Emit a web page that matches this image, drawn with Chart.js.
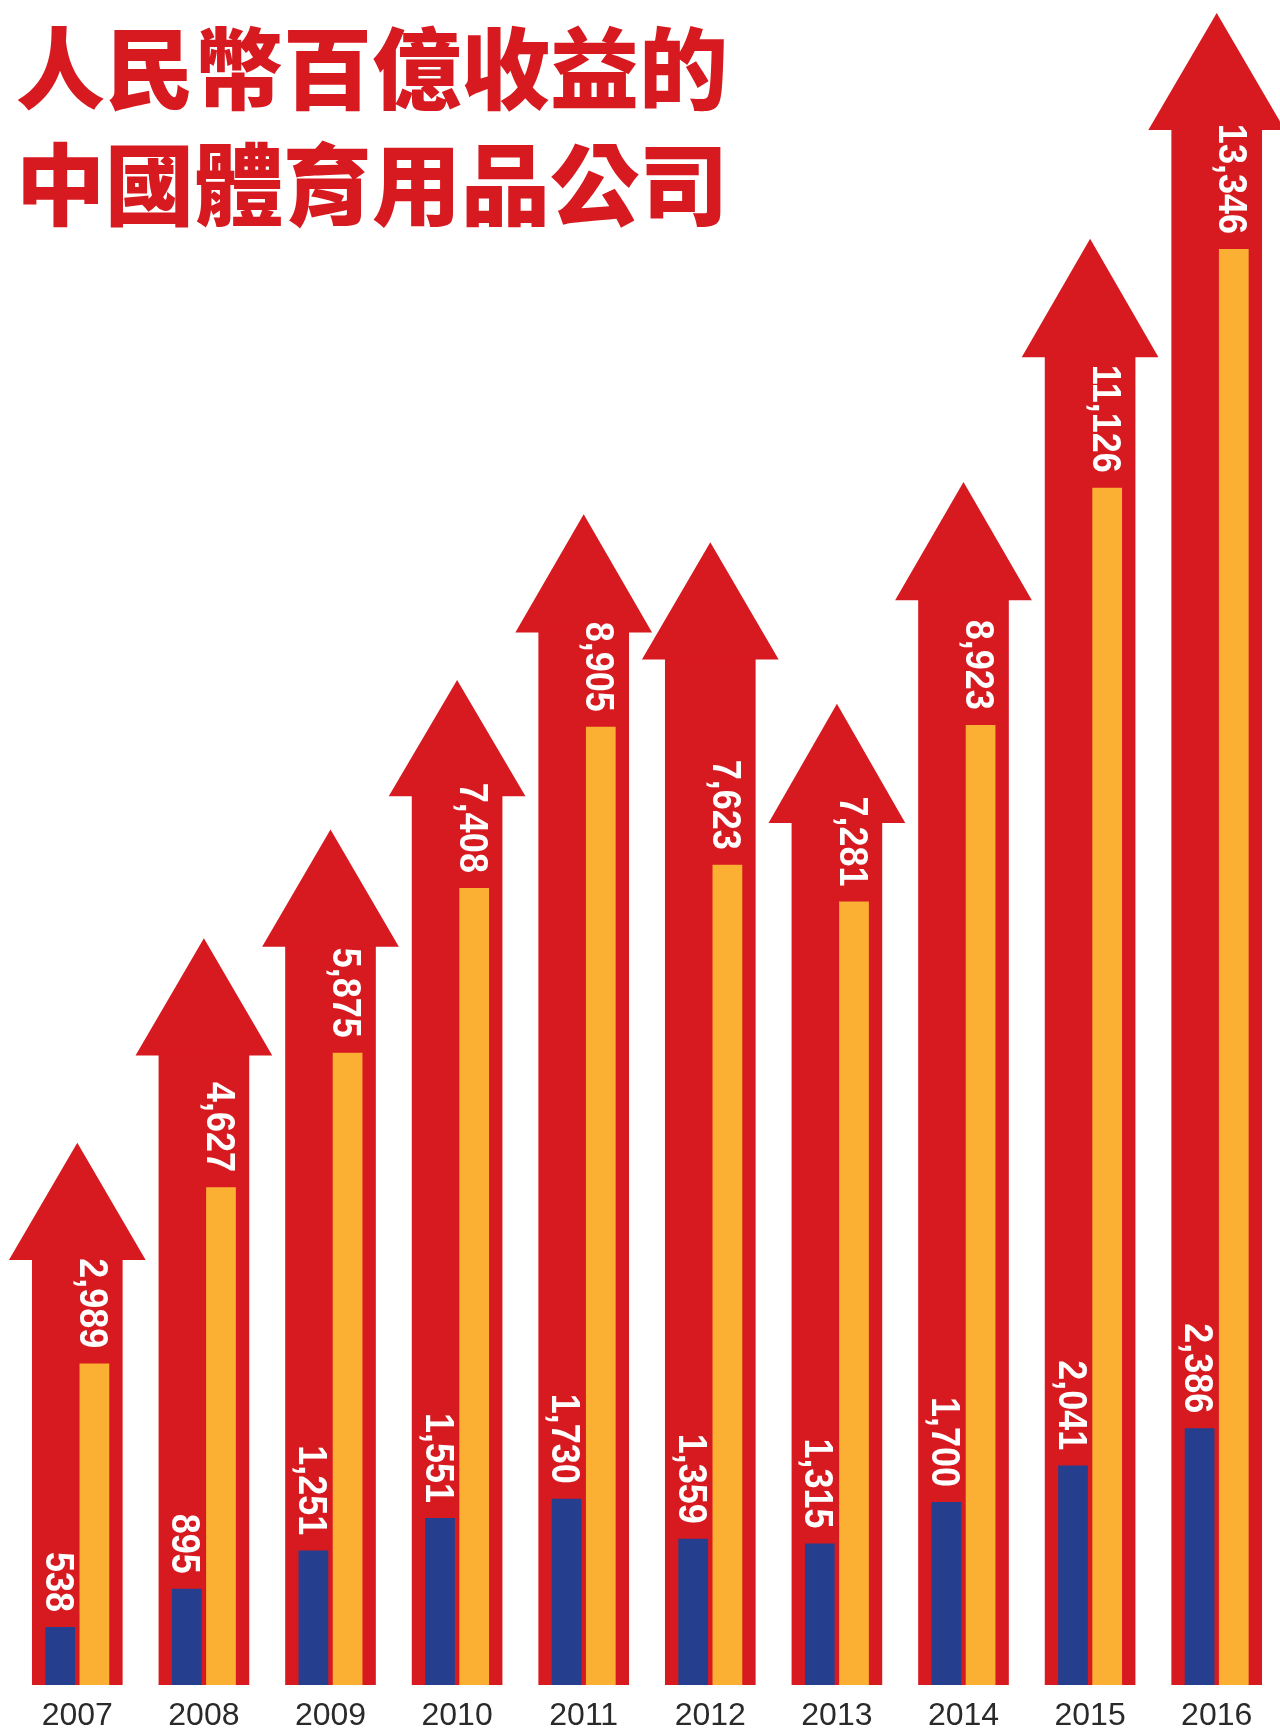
<!DOCTYPE html>
<html lang="zh-Hant">
<head>
<meta charset="utf-8">
<title>人民幣百億收益的中國體育用品公司</title>
<script src="https://cdn.jsdelivr.net/npm/chart.js@4.4.1/dist/chart.umd.min.js"></script>
<style>
  html, body { margin: 0; padding: 0; background: #fff; }
  .wrap { position: relative; width: 1280px; height: 1731px; }
  .title {
    position: absolute; left: 16px; top: 6px; margin: 0; z-index: 2;
    font-family: "Noto Sans CJK TC", "Noto Sans CJK SC", sans-serif;
    font-weight: 900; font-size: 89px; line-height: 116px; color: #d71920;
  }
</style>
</head>
<body>
<div class="wrap">
  <h1 class="title">人民幣百億收益的<br>中國體育用品公司</h1>
  <canvas id="myChart"></canvas>
</div>
<script>
const years = ['2007', '2008', '2009', '2010', '2011', '2012', '2013', '2014', '2015', '2016'];
// orange bars (larger figure) and blue bars (smaller figure), in 百萬人民幣
const revenue = [2989, 4627, 5875, 7408, 8905, 7623, 7281, 8923, 11126, 13346];
const profit = [538, 895, 1251, 1551, 1730, 1359, 1315, 1700, 2041, 2386];
// red arrows: top of the shaft and the tip of the head
const arrowBody = [3960, 5860, 6870, 8270, 9790, 9540, 8020, 10090, 12350, 14460];
const arrowTip = [5040, 6940, 7950, 9340, 10880, 10620, 9120, 11180, 13440, 15540];

const red = '#d71920';
const orange = '#fbb034';
const blue = '#253f8e';

const arrowHeads = {
  id: 'arrowHeads',
  beforeDatasetsDraw(chart) {
    const { ctx } = chart;
    const x = chart.scales.x;
    const y = chart.scales.y;
    const step = x.width / years.length;
    ctx.save();
    ctx.fillStyle = red;
    years.forEach((yr, i) => {
      const cx = x.getPixelForValue(i);
      const base = y.getPixelForValue(arrowBody[i]);
      const tip = y.getPixelForValue(arrowTip[i]);
      const half = step * 0.54;
      ctx.beginPath();
      ctx.moveTo(cx - half, base + 1);
      ctx.lineTo(cx, tip);
      ctx.lineTo(cx + half, base + 1);
      ctx.closePath();
      ctx.fill();
    });
    ctx.restore();
  }
};

const valueLabels = {
  id: 'valueLabels',
  afterDatasetsDraw(chart) {
    const { ctx } = chart;
    const size = 40;
    const squeeze = 0.9;
    [1, 2].forEach((di) => {
      const meta = chart.getDatasetMeta(di);
      const values = chart.data.datasets[di].data;
      meta.data.forEach((bar, i) => {
        ctx.save();
        ctx.translate(bar.x, bar.y);
        ctx.rotate(Math.PI / 2);
        ctx.scale(squeeze, 1);
        ctx.font = `bold ${size}px "Liberation Sans", Arial, sans-serif`;
        ctx.fillStyle = '#fff';
        ctx.textAlign = 'right';
        ctx.textBaseline = 'alphabetic';
        ctx.fillText(values[i].toLocaleString('en-US'), -15 / squeeze, size * 0.358);
        ctx.restore();
      });
    });
  }
};

const ctx = document.getElementById('myChart').getContext('2d');

new Chart(ctx, {
  type: 'bar',
  data: {
    labels: years,
    datasets: [
      {
        label: 'arrow',
        data: arrowBody,
        backgroundColor: red,
        grouped: false,
        categoryPercentage: 0.716,
        barPercentage: 1,
        order: 2
      },
      {
        label: 'profit',
        data: profit,
        backgroundColor: blue,
        categoryPercentage: 0.54,
        barPercentage: 0.87,
        order: 0
      },
      {
        label: 'revenue',
        data: revenue,
        backgroundColor: orange,
        categoryPercentage: 0.54,
        barPercentage: 0.87,
        order: 0
      }
    ]
  },
  options: {
    responsive: true,
    maintainAspectRatio: false,
    animation: false,
    layout: { padding: { left: 14, right: 0, top: 0, bottom: -16 } },
    plugins: {
      legend: { display: false },
      tooltip: { enabled: false }
    },
    scales: {
      x: {
        offset: true,
        grid: { display: false, drawTicks: false },
        border: { display: false },
        ticks: {
          autoSkip: false,
          maxRotation: 0,
          padding: 15,
          color: '#2a2a2a',
          font: { family: '"Liberation Sans", Arial, sans-serif', size: 32, lineHeight: 1 }
        }
      },
      y: {
        display: false,
        min: 0,
        max: 15660
      }
    }
  },
  plugins: [arrowHeads, valueLabels]
});
</script>
</body>
</html>
